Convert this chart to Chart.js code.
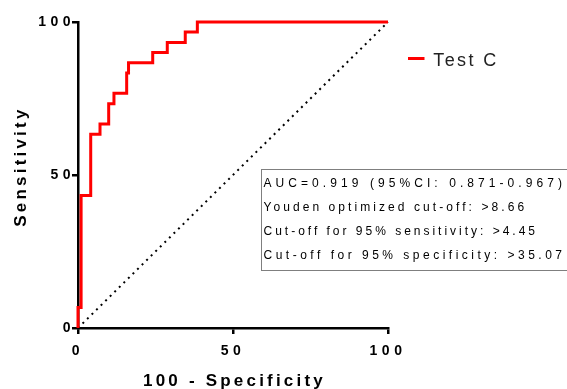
<!DOCTYPE html>
<html><head><meta charset="utf-8">
<script src="https://cdn.jsdelivr.net/npm/chart.js@4.4.1/dist/chart.umd.min.js"></script>
<style>html,body{margin:0;padding:0;background:#fff;}#wrap{width:567px;height:389px;}</style>
</head><body><div id="wrap"><canvas id="c" width="567" height="389"></canvas></div>
<script>
// ROC operating points (100 - Specificity, Sensitivity)
const specificity100 = [0, 0, 1.0, 4.1, 7.1, 9.9, 11.6, 15.7, 16.3, 24.1, 28.8, 34.6, 38.5, 100];
const sensitivity    = [0, 6.67, 43.3, 63.3, 66.7, 73.3, 76.7, 83.3, 86.7, 90.0, 93.3, 96.7, 100, 100];
const refX = [0, 100];
const refY = [0, 100];
const tickValues = [0, 50, 100];
const seriesName = 'Test C';
const xTitle = '100 - Specificity';
const yTitle = 'Sensitivity';
const statsLines = [
  'AUC=0.919 (95%CI: 0.871-0.967)',
  'Youden optimized cut-off: >8.66',
  'Cut-off for 95% sensitivity: >4.45',
  'Cut-off for 95% specificity: >35.07'
];
// right end (px) of each stats line, used to set its letter spacing
const statsLineEnds = [562, 524, 535, 562];

const FONT = '"Liberation Sans", Arial, sans-serif';

const textPlugin = {
  id: 'texts',
  beforeDraw(chart) { chart.ctx.letterSpacing = '4.5px'; },
  afterDraw(chart) {
    const ctx = chart.ctx;
    const a = chart.chartArea;
    ctx.save();
    ctx.fillStyle = '#000';
    // x title
    ctx.letterSpacing = '3.2px';
    ctx.font = 'bold 17px ' + FONT;
    ctx.textAlign = 'center';
    ctx.textBaseline = 'alphabetic';
    ctx.fillText(xTitle, (a.left + a.right) / 2 + 1.5, 385.6);
    // y title
    ctx.save();
    ctx.translate(26, 226.7);
    ctx.rotate(-Math.PI / 2);
    ctx.textAlign = 'left';
    ctx.fillText(yTitle, 0, 0);
    ctx.restore();
    // legend
    ctx.strokeStyle = 'red';
    ctx.lineWidth = 3;
    ctx.beginPath(); ctx.moveTo(408, 58.5); ctx.lineTo(424.5, 58.5); ctx.stroke();
    ctx.letterSpacing = '2.4px';
    ctx.font = '18px ' + FONT;
    ctx.textAlign = 'left';
    ctx.fillStyle = '#222';
    ctx.fillText(seriesName, 433.3, 65.7);
    // stats box
    ctx.strokeStyle = '#7f7f7f';
    ctx.lineWidth = 1;
    ctx.strokeRect(261.5, 169.5, 320, 101);
    ctx.fillStyle = '#000';
    ctx.font = '12px ' + FONT;
    const x0 = 263.5;
    statsLines.forEach((s, i) => {
      ctx.letterSpacing = '0px';
      const w = ctx.measureText(s).width;
      const sp = Math.max(0, (statsLineEnds[i] - x0 - w) / (s.length - 1));
      ctx.letterSpacing = sp.toFixed(2) + 'px';
      ctx.fillText(s, x0, 187 + i * 24.1);
    });
    ctx.restore();
  }
};

const axisCommon = {
  type: 'linear', min: 0, max: 100,
  border: { display: true, color: '#000', width: 2.5 },
  grid: { display: true, drawOnChartArea: false, drawTicks: true, tickLength: 6, color: '#000', lineWidth: 2.5 },
  afterBuildTicks: s => { s.ticks = tickValues.map(v => ({ value: v })); },
  title: { display: false }
};

new Chart(document.getElementById('c'), {
  type: 'scatter',
  data: {
    datasets: [
      {
        label: 'Reference',
        data: refX.map((x, i) => ({ x, y: refY[i] })),
        showLine: true, borderColor: '#000', borderWidth: 2, borderDash: [2, 4.4],
        pointRadius: 0, clip: false, order: 2
      },
      {
        label: seriesName,
        data: specificity100.map((x, i) => ({ x, y: sensitivity[i] })),
        showLine: true, stepped: 'before', borderColor: '#ff0000', borderWidth: 3,
        pointRadius: 0, clip: false, order: 1
      }
    ]
  },
  options: {
    responsive: false, animation: false, devicePixelRatio: 1,
    layout: { padding: { top: 22, right: 179, bottom: 0, left: 0 } },
    plugins: { legend: { display: false }, tooltip: { enabled: false } },
    scales: {
      x: Object.assign({}, axisCommon, {
        position: 'bottom',
        ticks: { color: '#000', font: { family: FONT, size: 14, weight: 'bold' }, padding: 9, maxRotation: 0 },
        afterFit: s => { s.height = 61; }
      }),
      y: Object.assign({}, axisCommon, {
        position: 'left',
        ticks: { color: '#000', font: { family: FONT, size: 14, weight: 'bold' }, padding: -3 },
        afterFit: s => { s.width = 78; }
      })
    }
  },
  plugins: [textPlugin]
});
</script></body></html>
